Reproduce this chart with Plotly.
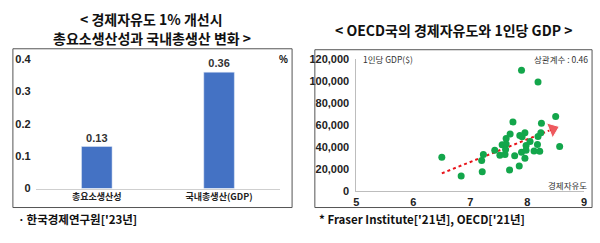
import plotly.graph_objects as go

W, H = 600, 243

# ---- data ----
bar_categories = ["총요소생산성", "국내총생산(GDP)"]
bar_values = [0.13, 0.36]

freedom_index = [6.50, 6.84, 7.20, 7.23, 7.21, 7.43, 7.52, 7.56, 7.63, 7.63, 7.61, 7.62,
                 7.70, 7.69, 7.75, 7.78, 7.86, 7.87, 7.90, 7.91, 7.90, 7.96, 7.98, 7.96,
                 7.98, 8.05, 8.12, 8.18, 8.19, 8.19, 8.22, 8.24, 8.25, 8.50, 8.57]
gdp_per_capita = [31000, 14000, 28000, 33500, 17800, 37300, 32800, 42300, 43000, 48000, 33400, 38000,
                  52000, 19500, 63100, 32300, 23100, 50800, 110000, 49500, 35500, 53300, 41600, 30000,
                  37300, 45200, 36600, 42600, 49800, 99300, 36500, 53200, 61900, 68000, 40800]

trend_x = [6.50, 8.45]
trend_y = [16400, 56500]

left_yticks = [0, 0.1, 0.2, 0.3, 0.4]
right_xticks = [5, 6, 7, 8, 9]
right_yticks = [0, 20000, 40000, 60000, 80000, 100000, 120000]

def px_x(p):
    return p / W

def px_y(p):
    return 1 - p / H

fig = go.Figure()

fig.add_trace(go.Bar(
    x=bar_categories, y=bar_values, marker=dict(color="#4472C4"), width=0.25,
    text=[f"<b>{v:.2f}</b>" for v in bar_values], textposition="outside",
    textfont=dict(size=11, color="#333", family="Arial"), cliponaxis=False,
    xaxis="x", yaxis="y", showlegend=False))

fig.add_trace(go.Scatter(
    x=trend_x, y=trend_y, mode="lines+markers",
    line=dict(color="#e8141b", width=2, dash="dot"),
    marker=dict(symbol="triangle-right", size=[0, 14], angle=-22, color="#e8141b"),
    xaxis="x2", yaxis="y2", showlegend=False))

fig.add_trace(go.Scatter(
    x=freedom_index, y=gdp_per_capita, mode="markers",
    marker=dict(color="#13a64b", size=7),
    xaxis="x2", yaxis="y2", showlegend=False))

tfont = dict(size=11, color="#222", family="Arial")

fig.update_layout(
    width=W, height=H, margin=dict(l=0, r=0, t=0, b=0),
    paper_bgcolor="white", plot_bgcolor="white",
    font=dict(family="Noto Sans CJK KR, Arial"),
    xaxis=dict(domain=[px_x(33), px_x(280)], showline=True, linecolor="#cfcfcf", linewidth=1,
               ticks="", tickfont=dict(size=9, color="#222", family="Noto Sans CJK KR"),
               tickvals=bar_categories, ticktext=[f"<b>{c}</b>" for c in bar_categories],
               showgrid=False, fixedrange=True),
    yaxis=dict(domain=[px_y(192), px_y(56)], range=[0, 0.4], tickvals=left_yticks,
               ticktext=["<b>0</b>", "<b>0.1</b>", "<b>0.2</b>", "<b>0.3</b>", "<b>0.4</b>"],
               showgrid=False, zeroline=False, showline=False, tickfont=tfont,
               ticklabelstandoff=4),
    xaxis2=dict(domain=[px_x(357), px_x(587)], range=[5, 9], tickvals=right_xticks,
                ticktext=[f"<b>{v}</b>" for v in right_xticks],
                showline=True, linecolor="#bdbdbd", linewidth=1, showgrid=False, zeroline=False,
                anchor="y2", tickfont=tfont),
    yaxis2=dict(domain=[px_y(195), px_y(56)], range=[0, 120000], tickvals=right_yticks,
                ticktext=[f"<b>{v:,}</b>" for v in right_yticks],
                showline=True, linecolor="#bdbdbd", linewidth=1, showgrid=False,
                zeroline=False, anchor="x2", ticklabelstandoff=4, tickfont=tfont),
)

shapes = [
    dict(type="rect", xref="paper", yref="paper", x0=px_x(10), x1=px_x(292), y0=px_y(212), y1=px_y(45),
         line=dict(color="#555", width=1)),
    dict(type="rect", xref="paper", yref="paper", x0=px_x(315), x1=px_x(595), y0=px_y(212), y1=px_y(46),
         line=dict(color="#555", width=1)),
]
fig.update_layout(shapes=shapes)

def ann(text, x, y, size, xanchor="center", bold=False, color="#111", family="Noto Sans CJK KR"):
    t = f"<b>{text}</b>" if bold else text
    fig.add_annotation(text=t, x=px_x(x), y=px_y(y), xref="paper", yref="paper",
                       xanchor=xanchor, yanchor="middle", showarrow=False,
                       font=dict(size=size, color=color, family=family))

ann("&lt; 경제자유도 1% 개선시", 150, 14, 14, bold=True)
ann("총요소생산성과 국내총생산 변화 &gt;", 151, 34, 14, bold=True)
ann("&lt; OECD국의 경제자유도와 1인당 GDP &gt;", 455, 25, 14, bold=True)
ann("%", 283, 56, 10, bold=True, family="Arial")
ann("1인당 GDP($)", 362, 56, 8.5, xanchor="left", color="#333")
ann("상관계수 : 0.46", 593, 56, 8.5, xanchor="right", color="#333")
ann("경제자유도", 592, 188, 8.5, xanchor="right", color="#333")
ann("ㆍ한국경제연구원['23년]", 11, 224, 11.5, xanchor="left", bold=True)
ann("* Fraser Institute['21년], OECD['21년]", 317, 224, 11.5, xanchor="left", bold=True)

fig.write_html("out.html")
